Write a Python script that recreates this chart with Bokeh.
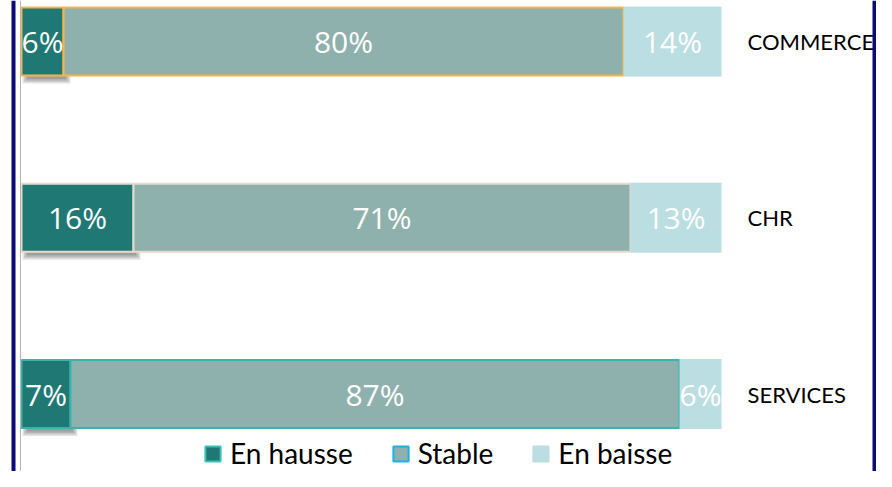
import numpy as np
from bokeh.plotting import figure
from bokeh.models import Range1d, Legend, LegendItem, ColumnDataSource, Span
from bokeh.core.properties import value
from bokeh.embed import file_html
from bokeh.resources import INLINE

# ---- data ----
categories = ["COMMERCE", "CHR", "SERVICES"]
series_names = ["En hausse", "Stable", "En baisse"]
hausse = [6, 16, 7]
stable = [80, 71, 87]
baisse = [14, 13, 6]

# ---- styles ----
series_colors = ["#1F7873", "#8FB1AD", "#BADEE2"]
row_outline = ["#F6B54B", "#E8DACB", "#35B5AC"]
legend_outline = ["#3CC0B6", "#1CB0EA", "#BADEE2"]
navy = "#0A0A78"

W, H = 876, 471
PX_X = 7.0        # pixels per percent
PX_Y = 176.25     # pixels per category step
x0_px = 21        # pixel of 0 %
top_center_px = 41

x_start = -x0_px / PX_X
x_end = x_start + W / PX_X
y_top = -top_center_px / PX_Y
y_bottom = y_top + H / PX_Y

p = figure(width=W, height=H, output_backend="svg", toolbar_location=None,
           x_range=Range1d(x_start, x_end), y_range=Range1d(y_bottom, y_top),
           min_border=0, min_border_left=0, min_border_right=0,
           min_border_top=0, min_border_bottom=0)
p.axis.visible = False
p.grid.visible = False
p.outline_line_color = None
p.background_fill_color = "white"
p.border_fill_color = "white"

ypos = np.arange(len(categories), dtype=float)
vals = np.array([hausse, stable, baisse], dtype=float)   # series x category
rights = np.cumsum(vals, axis=0)
lefts = rights - vals

bar_h_px = 68
bar_h = bar_h_px / PX_Y

# shadow under first segment
dx, dy = 4 / PX_X, 5 / PX_Y
for e in [3.0, 1.5, 0.0, -1.5]:
    ex, ey = e / PX_X, e / PX_Y
    p.quad(left=lefts[0] + dx - ex, right=rights[0] + dx + ex,
           top=ypos - bar_h / 2 + dy - ey, bottom=ypos + bar_h / 2 + dy + ey,
           fill_color="black", fill_alpha=0.11, line_color=None)

# bars
for s in range(3):
    src = ColumnDataSource(dict(y=ypos, left=lefts[s], right=rights[s],
                                outline=row_outline))
    if s < 2:
        p.hbar(y="y", left="left", right="right", height=bar_h, source=src,
               fill_color=series_colors[s], line_color="outline", line_width=2)
    else:
        p.hbar(y="y", left="left", right="right", height=bar_h + 2 / PX_Y, source=src,
               fill_color=series_colors[s], line_color=None)

# value labels
for s in range(3):
    centers = (lefts[s] + rights[s]) / 2
    labels = [f"{int(v)}%" for v in vals[s]]
    p.text(x=centers, y=ypos, text=labels, text_color="white",
           text_font=value("Open Sans"), text_font_size="30px",
           text_align="center", text_baseline="middle")

# category labels
p.text(x=[100 + 26 / PX_X] * len(categories), y=ypos, text=categories,
       text_color="black", text_font=value("Lato"), text_font_size="22px",
       text_align="left", text_baseline="middle")

# frame lines
p.add_layout(Span(location=(13 - x0_px) / PX_X, dimension="height", line_color=navy, line_width=4))
p.add_layout(Span(location=(874 - x0_px) / PX_X, dimension="height", line_color=navy, line_width=4))
p.add_layout(Span(location=(20 - x0_px) / PX_X, dimension="height", line_color="#B4B4B4", line_width=1))

# legend
items = []
for s in range(3):
    r = p.quad(left=[np.nan], right=[np.nan], top=[np.nan], bottom=[np.nan],
               fill_color=series_colors[s], line_color=legend_outline[s], line_width=2)
    items.append(LegendItem(label=series_names[s], renderers=[r], index=0))
legend = Legend(items=items, orientation="horizontal", location=(203, 1),
                label_text_font="Lato", label_text_font_size="28px",
                label_text_color="black", glyph_width=19, glyph_height=19,
                label_standoff=8, spacing=38, padding=0, margin=0,
                border_line_color=None, background_fill_alpha=0)
p.add_layout(legend)

open("out.html", "w").write(file_html(p, INLINE))
